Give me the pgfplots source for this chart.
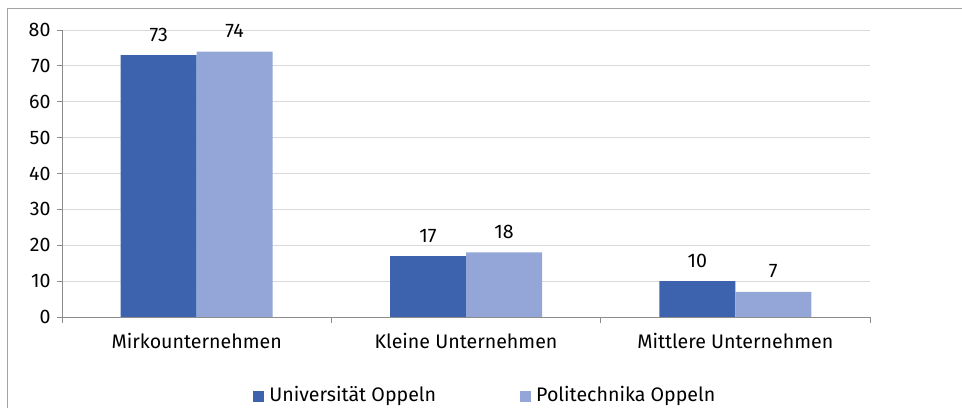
\documentclass[border=0pt]{standalone}
\usepackage{fontspec}
\setmainfont{Fira Sans}
\usepackage{pgfplots}
\pgfplotsset{compat=1.18}
\definecolor{darkb}{RGB}{61,99,174}
\definecolor{lightb}{RGB}{148,166,215}
\definecolor{gridc}{RGB}{217,217,217}
\definecolor{axc}{RGB}{140,140,140}
\begin{document}
\begin{tikzpicture}
\path[use as bounding box] (0,0) rectangle (962bp,408bp);
\draw[color=axc!80, line width=0.8bp] (7.5bp,0) -- (7.5bp,400bp) -- (962bp,400bp);
\begin{axis}[
  at={(62bp,91bp)}, anchor=south west,
  scale only axis, width=808bp, height=287bp,
  ybar, bar width=76bp,
  ymin=0, ymax=80, ytick={0,10,...,80},
  xmin=-0.5, xmax=2.5,
  xtick={0,1,2},
  xticklabels={Mirkounternehmen, Kleine Unternehmen, Mittlere Unternehmen},
  minor xtick={-0.5,0.5,1.5,2.5},
  axis x line=bottom, axis y line=left,
  axis line style={-, draw=axc, line width=0.8bp},
  tick align=outside,
  major tick length=5bp, minor tick length=6bp,
  major x tick style={draw=none},
  minor x tick style={draw=axc, line width=0.8bp},
  ytick style={draw=axc, line width=0.8bp},
  ymajorgrids, grid style={draw=gridc, line width=0.9bp},
  font=\fontsize{19.6bp}{22bp}\selectfont,
  /pgf/number format/assume math mode=true,
  yticklabel style={xshift=-3bp},
  xticklabel style={anchor=base, yshift=-26bp},
  nodes near coords,
  nodes near coords style={anchor=base, inner sep=0pt, yshift=14bp, font=\fontsize{19.6bp}{22bp}\selectfont},
  legend columns=2,
  legend style={at={(0.524,-0.272)}, anchor=center, draw=none, fill=none,
    font=\fontsize{19.6bp}{22bp}\selectfont,
    /tikz/every even column/.append style={column sep=82bp}},
  legend image code/.code={\fill[#1] (0bp,-6.5bp) rectangle (11bp,4.5bp); \path (14bp,0bp);},
]
\addplot[fill=darkb, draw=none, bar shift=-38bp] coordinates {(0,73) (1,17) (2,10)};
\addplot[fill=lightb, draw=none, bar shift=38bp] coordinates {(0,74) (1,18) (2,7)};
\legend{Universität Oppeln, Politechnika Oppeln}
\end{axis}
\end{tikzpicture}
\end{document}
